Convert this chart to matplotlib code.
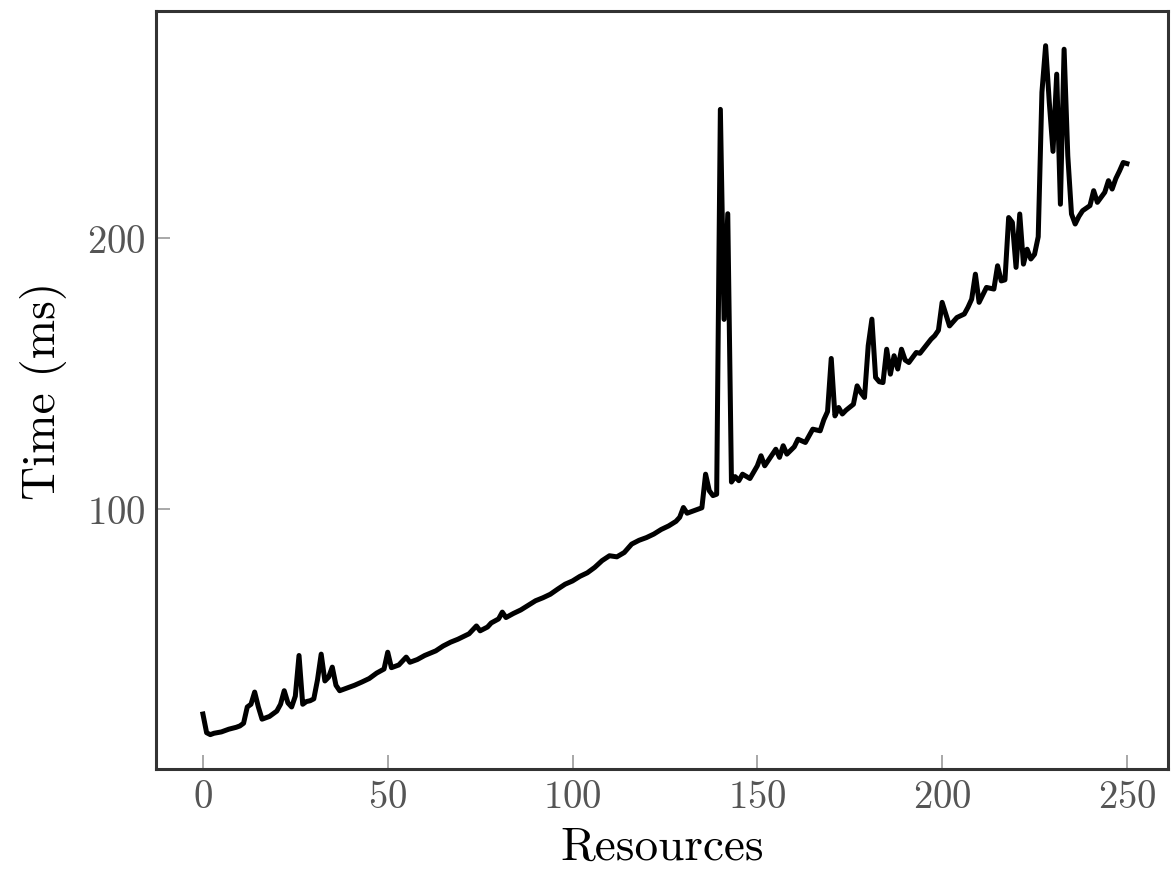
import matplotlib
matplotlib.use("Agg")
import matplotlib.pyplot as plt

# Computer Modern look
plt.rcParams["font.family"] = "serif"
plt.rcParams["font.serif"] = ["cmr10", "DejaVu Serif"]
plt.rcParams["mathtext.fontset"] = "cm"
plt.rcParams["axes.formatter.use_mathtext"] = True

eixox = "Resources"
eixoy = "Time (ms)"

# valores (recursos, tempo em ms)
recursos = [0, 1, 2, 3, 5, 7, 9, 10, 11, 12, 13, 14, 15, 16, 18, 20, 21, 22, 23, 24,
            25, 26, 27, 28, 29, 30, 31, 32, 33, 34, 35, 36, 37, 39, 41, 43, 45, 47, 49, 50,
            51, 53, 55, 56, 58, 60, 63, 65, 67, 69, 72, 74, 75, 77, 78, 80, 81, 82, 84, 86,
            88, 90, 92, 94, 96, 98, 100, 102, 104, 106, 108, 110, 112, 114, 116, 118, 120, 122, 124, 126,
            128, 129, 130, 131, 133, 135, 136, 137, 138, 139, 140, 141, 142, 143, 144, 145, 146, 148, 150, 151,
            152, 155, 156, 157, 158, 160, 161, 163, 165, 167, 168, 169, 170, 171, 172, 173, 174, 176, 177, 178,
            179, 180, 181, 182, 183, 184, 185, 186, 187, 188, 189, 190, 191, 193, 194, 196, 197, 198, 199, 200,
            201, 202, 204, 206, 207, 208, 209, 210, 212, 214, 215, 216, 217, 218, 219, 220, 221, 222, 223, 224,
            225, 226, 227, 228, 229, 230, 231, 232, 233, 234, 235, 236, 237, 238, 240, 241, 242, 244, 245, 246,
            247, 248, 249, 250]
tempo = [24.4, 17.5, 16.8, 17.3, 17.8, 18.8, 19.5, 20.0, 21.0, 27.0, 28.0, 32.5, 27.0, 22.5, 23.5, 25.5, 28.0, 33.0, 28.5, 27.0,
         31.0, 46.0, 28.0, 29.0, 29.3, 30.0, 37.0, 46.5, 36.6, 38.0, 41.7, 35.0, 33.0, 34.0, 35.0, 36.2, 37.5, 39.5, 41.0, 47.2,
         41.5, 42.5, 45.4, 43.5, 44.5, 46.0, 47.7, 49.5, 50.9, 52.0, 54.0, 56.9, 55.1, 56.5, 58.0, 59.5, 62.0, 60.0, 61.5, 62.8,
         64.5, 66.2, 67.3, 68.6, 70.5, 72.3, 73.5, 75.2, 76.5, 78.5, 81.0, 82.8, 82.4, 84.0, 87.1, 88.5, 89.5, 90.8, 92.5, 93.8,
         95.5, 97.0, 100.6, 98.5, 99.5, 100.5, 112.9, 106.8, 105.0, 105.5, 247.5, 170.0, 209.0, 110.0, 112.0, 110.5, 112.9, 111.3, 116.0, 119.7,
         116.0, 122.1, 119.1, 123.4, 120.3, 123.0, 125.8, 124.6, 129.5, 128.9, 133.0, 136.0, 155.6, 134.4, 137.5, 135.1, 136.5, 138.7, 145.5, 143.0,
         141.2, 160.3, 170.1, 148.6, 147.0, 146.7, 159.0, 149.8, 156.6, 151.7, 159.0, 155.0, 154.1, 157.8, 157.5, 161.0, 162.7, 164.0, 166.0, 176.3,
         172.0, 167.6, 170.7, 172.0, 174.5, 177.5, 186.7, 176.3, 181.8, 181.2, 189.8, 184.2, 184.6, 207.6, 205.8, 189.2, 208.9, 190.4, 195.9, 192.3,
         194.0, 200.5, 253.8, 271.0, 250.0, 232.0, 260.5, 212.5, 269.7, 230.4, 208.9, 205.2, 208.0, 210.1, 212.0, 217.5, 213.2, 216.9, 221.2, 218.1,
         222.0, 224.8, 227.9, 227.5]

fig = plt.figure(figsize=(11.71, 8.7), dpi=100)
ax = fig.add_axes([0.1332, 0.1149, 0.8642, 0.8713])

ax.plot(recursos, tempo, color="k", linewidth=3.6, solid_joinstyle="round")

ax.set_xlim(-12.7, 261.1)
ax.set_ylim(4.1, 283.8)
ax.set_xticks([0, 50, 100, 150, 200, 250])
ax.set_yticks([100, 200])

for s in ax.spines.values():
    s.set_color("#333333")
    s.set_linewidth(2.2)

ax.tick_params(direction="in", length=10, width=1.2, color="#999999",
               labelcolor="#555555", labelsize=28, pad=7,
               top=False, right=False)

ax.set_xlabel(eixox, fontsize=34, labelpad=8)
ax.set_ylabel(eixoy, fontsize=34, labelpad=15)

plt.savefig("out.png", dpi=100)
